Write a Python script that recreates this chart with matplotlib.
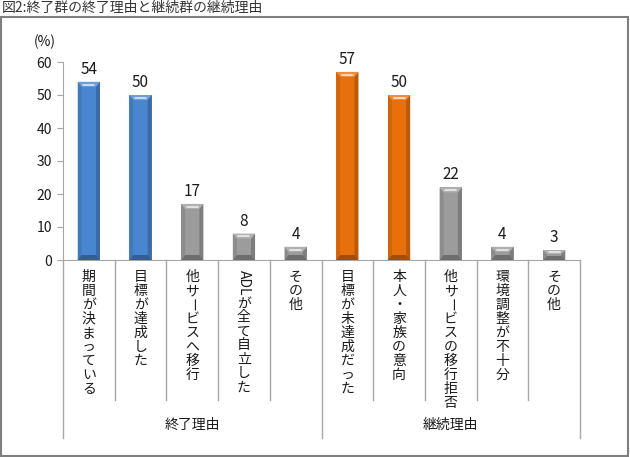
import matplotlib
matplotlib.use("Agg")
import matplotlib.pyplot as plt
import numpy as np
from matplotlib.patches import Rectangle, Polygon
from matplotlib.colors import to_rgb

plt.rcParams['font.family'] = ['Noto Sans CJK JP', 'DejaVu Sans']

title = "図2:終了群の終了理由と継続群の継続理由"
categories = ["期間が決まっている", "目標が達成した", "他サービスへ移行", "ADLが全て自立した", "その他",
              "目標が未達成だった", "本人・家族の意向", "他サービスの移行拒否", "環境調整が不十分", "その他"]
values = [54, 50, 17, 8, 4, 57, 50, 22, 4, 3]
groups = ["終了理由", "継続理由"]
group_sizes = [5, 5]
yticks = [0, 10, 20, 30, 40, 50, 60]

blue, orange, grey = "#4a86cf", "#e8700c", "#9c9c9c"
bar_colors = [blue, blue, grey, grey, grey, orange, orange, grey, grey, grey]
line_grey = "#a6a6a6"
txt = "#1a1a1a"

W, H = 630, 457
fig = plt.figure(figsize=(W / 100, H / 100), dpi=100)
ax_l, ax_r, ax_t, ax_b = 63, 580, 62, 260
ax = fig.add_axes([ax_l / W, (H - ax_b) / H, (ax_r - ax_l) / W, (ax_b - ax_t) / H])

x = np.arange(len(categories))
bars = ax.bar(x, values, width=0.43, color=bar_colors, zorder=2)
ax.set_xlim(-0.5, len(categories) - 0.5)
ax.set_ylim(0, 60)

# pixel -> data scale for the bevel look
px_x = (len(categories)) / (ax_r - ax_l)
px_y = 60 / (ax_b - ax_t)


def shade(c, f):
    c = np.array(to_rgb(c))
    if f >= 0:
        return tuple(c + (1 - c) * f)
    return tuple(c * (1 + f))


for b, c in zip(bars, bar_colors):
    x0, w, h = b.get_x(), b.get_width(), b.get_height()
    x1 = x0 + w
    dx = 4 * px_x
    dy = min(5 * px_y, h * 0.4)
    parts = [
        ([(x0, 0), (x0 + dx, dy), (x0 + dx, h - dy), (x0, h)], shade(c, -0.1)),
        ([(x1, 0), (x1 - dx, dy), (x1 - dx, h - dy), (x1, h)], shade(c, -0.2)),
        ([(x0, 0), (x1, 0), (x1 - dx, dy), (x0 + dx, dy)], shade(c, -0.3)),
        ([(x0, h), (x1, h), (x1 - dx, h - dy), (x0 + dx, h - dy)], shade(c, 0.2)),
    ]
    for pts, col in parts:
        ax.add_patch(Polygon(pts, closed=True, color=col, lw=0, zorder=3))
    ax.plot([x0 + dx * 1.4, x1 - dx * 1.4], [h - dy * 0.55] * 2, color="white",
            alpha=0.75, lw=1.2, solid_capstyle="round", zorder=4)
    ax.annotate(f"{h:g}", (b.get_x() + w / 2, h), xytext=(0, 4), textcoords="offset pixels",
                ha="center", va="bottom", fontsize=11, color=txt)

for s in ["top", "right"]:
    ax.spines[s].set_visible(False)
ax.spines["left"].set_color(line_grey)
ax.spines["bottom"].set_color(line_grey)
ax.set_xticks([])
ax.set_yticks(yticks)
ax.tick_params(axis="y", length=4, color=line_grey, labelsize=10, pad=4, labelcolor=txt)
ax.text(-0.036, 1.1, "(%)", transform=ax.transAxes, ha="center", va="center", fontsize=10, color=txt)

# category dividers below the axis
trans = ax.get_xaxis_transform()
bounds = np.arange(len(categories) + 1) - 0.5
group_edges = np.concatenate([[0], np.cumsum(group_sizes)])
for i, bx in enumerate(bounds):
    low = -0.899 if i in group_edges else -0.707
    ax.plot([bx, bx], [0, low], transform=trans, color=line_grey, lw=1, clip_on=False)

# vertical (tategaki) category labels
fig.canvas.draw()
renderer = fig.canvas.get_renderer()
step = 14


def is_ascii(ch):
    return ord(ch) < 128


for xi, label in zip(x, categories):
    y = -10
    i = 0
    while i < len(label):
        if is_ascii(label[i]):
            j = i
            while j < len(label) and is_ascii(label[j]):
                j += 1
            t = ax.annotate(label[i:j], (xi, 0), xycoords=trans, xytext=(0, y),
                            textcoords="offset pixels", rotation=270, ha="center", va="top",
                            fontsize=10, color=txt)
            y -= t.get_window_extent(renderer).height + 1
            i = j
        else:
            ch = label[i]
            rot = 270 if ch == "ー" else 0
            ax.annotate(ch, (xi, 0), xycoords=trans, xytext=(0, y - step / 2),
                        textcoords="offset pixels", rotation=rot, ha="center", va="center",
                        fontsize=10, color=txt)
            y -= step
            i += 1

for g, a, b in zip(groups, group_edges[:-1], group_edges[1:]):
    ax.text((bounds[a] + bounds[b]) / 2, -0.833, g, transform=trans, ha="center", va="center",
            fontsize=10, color=txt)

fig.text(2 / W, 1 - 8 / H, title, ha="left", va="center", fontsize=10, color="#333333")
fig.add_artist(Rectangle((0.8 / W, 1.2 / H), 627.5 / W, 438.5 / H, transform=fig.transFigure,
                         fill=False, ec="#7f7f7f", lw=1.5))

fig.savefig("out.png", dpi=100)
